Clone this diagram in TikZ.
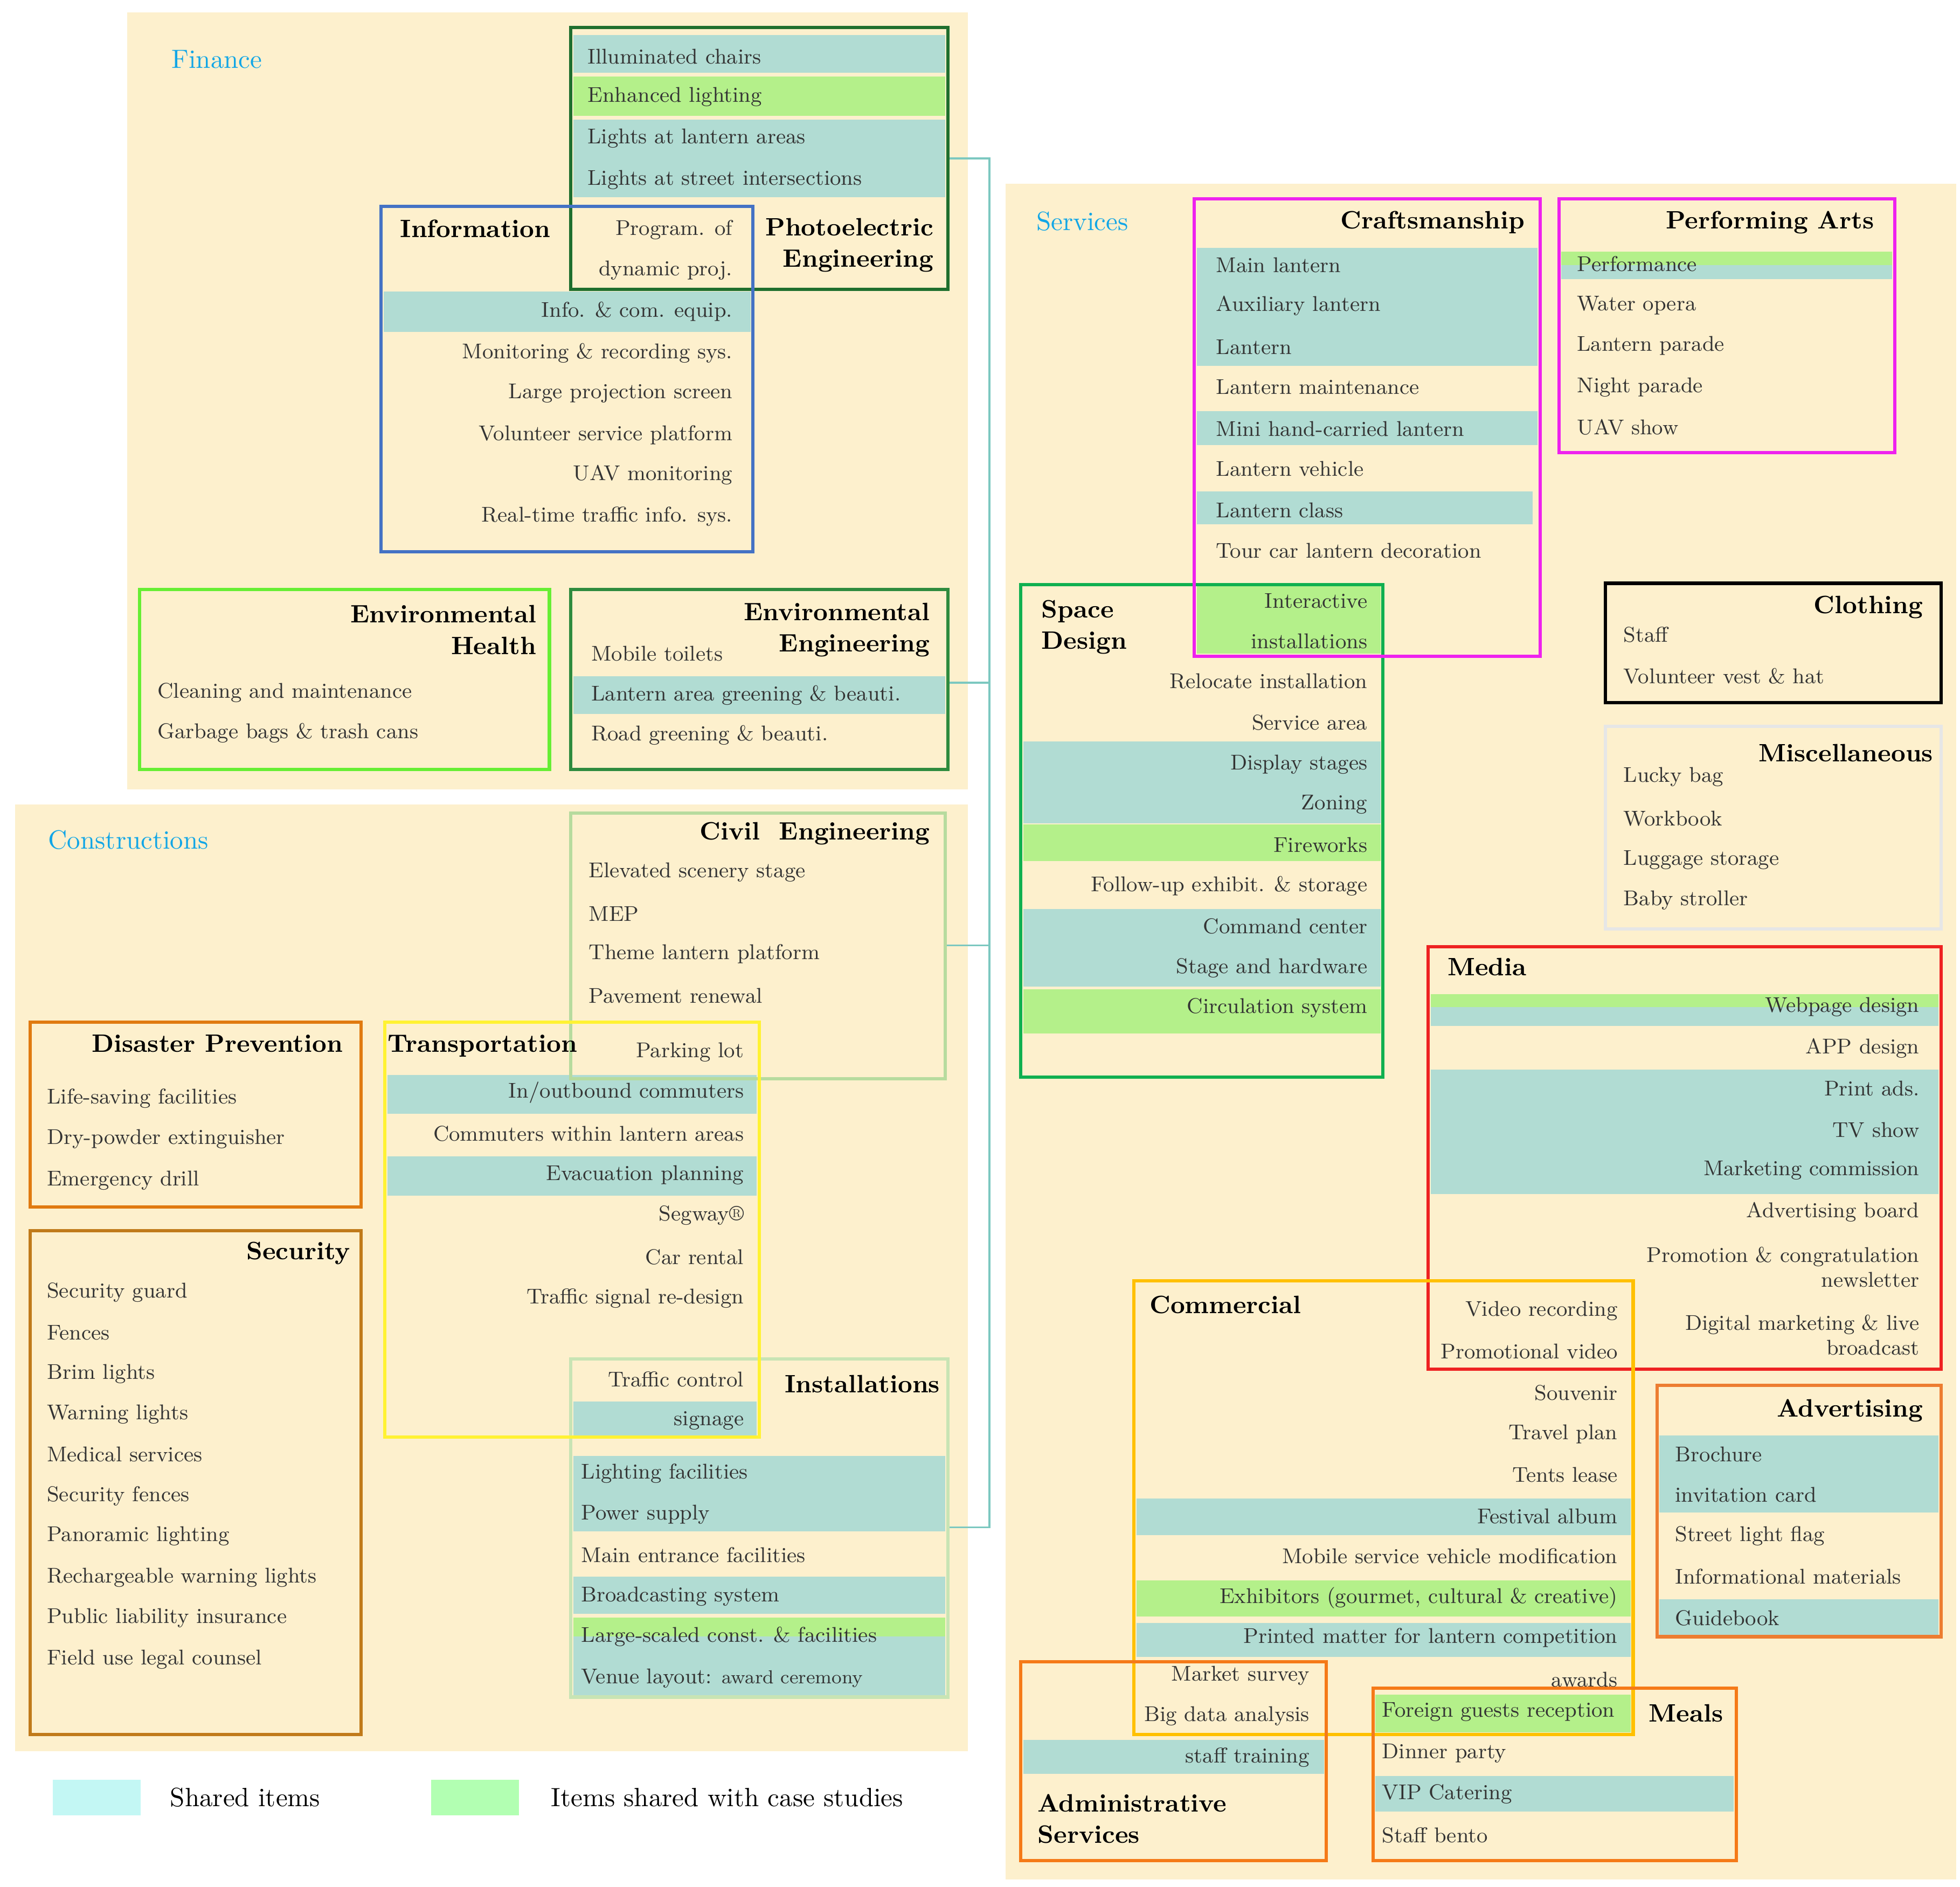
\documentclass[tikz,border=0pt]{standalone}
\begin{document}
\definecolor{bg}{HTML}{FDF0CD}
\definecolor{teal1}{HTML}{B1DCD3}
\definecolor{grn1}{HTML}{B4F08A}
\definecolor{txt}{HTML}{333333}
\definecolor{ttxt}{HTML}{2F7F86}
\definecolor{lbl}{HTML}{12A6E6}
\definecolor{cpe}{HTML}{1F6F2E}
\definecolor{cinfo}{HTML}{4472C4}
\definecolor{ceh}{HTML}{66EE33}
\definecolor{cee}{HTML}{2E8B3E}
\definecolor{cce}{HTML}{B7DB9E}
\definecolor{cdp}{HTML}{E07A10}
\definecolor{csec}{HTML}{C07A1A}
\definecolor{ctr}{HTML}{FFF233}
\definecolor{cinst}{HTML}{C8E4B4}
\definecolor{cmag}{HTML}{EE22EE}
\definecolor{csd}{HTML}{10B050}
\definecolor{cmisc}{HTML}{E6E6E6}
\definecolor{cmed}{HTML}{EE2222}
\definecolor{ccom}{HTML}{FFC000}
\definecolor{cadv}{HTML}{ED7D31}
\definecolor{cadm}{HTML}{F57A18}
\definecolor{clink}{HTML}{7CC8C0}
\begin{tikzpicture}[x=0.5pt,y=-0.5pt,
  tx/.style={font=\fontsize{8.5}{10}\selectfont,text=txt,inner sep=0pt},
  tl/.style={tx,anchor=west},
  tr/.style={tx,anchor=east},
  ttl/.style={font=\fontsize{10}{12.5}\selectfont\bfseries,text=black,inner sep=0pt},
  lab/.style={font=\fontsize{10.5}{12}\selectfont,text=lbl,inner sep=0pt,anchor=west},
  box/.style={line width=1.3pt},
  tb/.style={fill=teal1},
  gb/.style={fill=grn1}]
\useasboundingbox (0,0) rectangle (1559,1501);
% panels
\fill[bg] (101,10) rectangle (770,628);
\fill[bg] (12,640) rectangle (770,1393);
\fill[bg] (800,146) rectangle (1556,1495);
% bands
\fill[tb] (456,28) rectangle (752,58);
\fill[gb] (456,61) rectangle (752,92);
\fill[tb] (456,95) rectangle (752,157);
\fill[tb] (305,232) rectangle (597,264);
\fill[tb] (456,538) rectangle (752,568);
\fill[tb] (308,855) rectangle (602,886);
\fill[tb] (308,920) rectangle (602,951);
\fill[tb] (456,1115) rectangle (602,1143);
\fill[tb] (456,1158) rectangle (752,1218);
\fill[tb] (456,1254) rectangle (752,1284);
\fill[gb] (456,1287) rectangle (752,1302);
\fill[tb] (456,1302) rectangle (752,1350);
\fill[tb] (952,197) rectangle (1223,291);
\fill[tb] (952,327) rectangle (1223,354);
\fill[tb] (952,391) rectangle (1219,417);
\fill[gb] (952,466) rectangle (1098,520);
\fill[tb] (814,590) rectangle (1098,655);
\fill[gb] (814,656) rectangle (1098,685);
\fill[tb] (814,723) rectangle (1098,785);
\fill[gb] (814,787) rectangle (1098,822);
\fill[gb] (1242,200) rectangle (1505,211);
\fill[tb] (1242,211) rectangle (1505,222);
\fill[gb] (1138,791) rectangle (1542,801);
\fill[tb] (1138,801) rectangle (1542,816);
\fill[tb] (1138,851) rectangle (1542,950);
\fill[tb] (904,1192) rectangle (1297,1221);
\fill[gb] (904,1257) rectangle (1297,1286);
\fill[tb] (904,1291) rectangle (1297,1318);
\fill[tb] (1320,1142) rectangle (1542,1203);
\fill[tb] (1320,1272) rectangle (1542,1302);
\fill[tb] (814,1384) rectangle (1053,1411);
\fill[gb] (1094,1348) rectangle (1297,1378);
\fill[tb] (1094,1413) rectangle (1379,1441);
% links
\coordinate (la) at (787,126);
\coordinate (lb) at (787,1215);
\coordinate (pe) at (754,126);
\coordinate (ee) at (754,543);
\coordinate (ce) at (752,752);
\coordinate (ins) at (754,1215);
\draw[clink,line width=0.8pt] (pe) -- (la) -- (lb) -- (ins);
\draw[clink,line width=0.8pt] (ee) -- (787,543);
\draw[clink,line width=0.8pt] (ce) -- (787,752);
% borders
\draw[box,cpe] (454,22) rectangle (754,230);
\draw[box,cinfo] (303,164) rectangle (599,439);
\draw[box,ceh] (111,469) rectangle (437,612);
\draw[box,cee] (454,469) rectangle (754,612);
\draw[box,cce] (454,647) rectangle (752,858);
\draw[box,cinst] (454,1081) rectangle (754,1350);
\draw[box,cdp] (24,813) rectangle (287,960);
\draw[box,csec] (24,979) rectangle (287,1380);
\draw[box,ctr] (306,813) rectangle (604,1143);
\draw[box,csd] (812,465) rectangle (1100,857);
\draw[box,cmag] (950,158) rectangle (1225,522);
\draw[box,cmag] (1240,158) rectangle (1507,360);
\draw[box,black] (1277,464) rectangle (1544,559);
\draw[box,cmisc] (1277,578) rectangle (1544,739);
\draw[box,cmed] (1136,753) rectangle (1544,1089);
\draw[box,ccom] (902,1019) rectangle (1299,1380);
\draw[box,cadv] (1318,1102) rectangle (1544,1302);
\draw[box,cadm] (812,1322) rectangle (1055,1480);
\draw[box,cadm] (1092,1343) rectangle (1381,1480);
% labels
\node[lab] (lfin) at (136,47) {Finance};
\node[lab] (lcon) at (38,668) {Constructions};
\node[lab] (lser) at (824,176) {Services};
% Photoelectric
\node[ttl,align=right,anchor=east] (tpe) at (743,195) {Photoelectric\\Engineering};
\foreach \y/\s [count=\i] in {45/Illuminated chairs,77/Enhanced lighting,110/Lights at lantern areas,143/Lights at street intersections}
  \node[tl] (pe\i) at (467,\y) {\s};
\node[tx,align=right,anchor=east,font=\fontsize{8.5}{16}\selectfont] (pdp) at (583,199) {Program. of\\dynamic proj.};
% Information
\node[ttl,anchor=west] (tinf) at (318,182) {Information};
\foreach \y/\s [count=\i] in {248/Info. \& com. equip.,281/Monitoring \& recording sys.,313/Large projection screen,346/Volunteer service platform,378/UAV monitoring,411/Real-time traffic info. sys.}
  \node[tr] (in\i) at (583,\y) {\s};
% Env Health
\node[ttl,align=right,anchor=east] (teh) at (427,501) {Environmental\\Health};
\node[tl] (eh1) at (125,551) {Cleaning and maintenance};
\node[tl] (eh2) at (125,583) {Garbage bags \& trash cans};
% Env Eng
\node[ttl,align=right,anchor=east] (tee) at (740,501) {Environmental\\Engineering};
\node[tl] (ee1) at (470,520) {Mobile toilets};
\node[tl] (ee2) at (470,553) {Lantern area greening \& beauti.};
\node[tl] (ee3) at (470,585) {Road greening \& beauti.};
% Civil
\node[ttl,anchor=east] (tce) at (740,663) {Civil\ \ Engineering};
\foreach \y/\s [count=\i] in {694/Elevated scenery stage,727/MEP,759/Theme lantern platform,792/Pavement renewal}
  \node[tl] (ce\i) at (468,\y) {\s};
% Disaster
\node[ttl,anchor=east] (tdp) at (273,830) {Disaster Prevention};
\foreach \y/\s [count=\i] in {874/Life-saving facilities,906/Dry-powder\ extinguisher,939/Emergency drill}
  \node[tl] (dp\i) at (37,\y) {\s};
% Security
\node[ttl,anchor=east] (tsec) at (279,997) {Security};
\foreach \y/\s [count=\i] in {1028/Security guard,1060/Fences,1093/Brim lights,1125/Warning lights,1157/Medical services,1190/Security fences,1222/Panoramic lighting,1255/Rechargeable warning lights,1287/Public liability insurance,1320/Field use legal counsel}
  \node[tl] (se\i) at (37,\y) {\s};
% Transportation
\node[ttl,anchor=west] (ttr) at (308,832) {Transportation};
\foreach \y/\s [count=\i] in {837/Parking lot,869/{In/outbound commuters},902/Commuters within lantern areas,935/Evacuation planning,967/Segway\textregistered,1000/Car rental,1033/Traffic signal re-design,1097/Traffic control,1130/signage}
  \node[tr] (tr\i) at (592,\y) {\s};
% Installations
\node[ttl,anchor=east] (tins) at (748,1101) {Installations};
\foreach \y/\s [count=\i] in {1172/Lighting facilities,1205/Power supply,1237/Main entrance facilities,1270/Broadcasting system,1302/Large-scaled const. \& facilities,1335/{Venue layout: {\fontsize{7.5}{9}\selectfont award ceremony}}}
  \node[tl] (is\i) at (462,\y) {\s};
% Craftsmanship
\node[ttl,anchor=east] (tcr) at (1213,177) {Craftsmanship};
\foreach \y/\s [count=\i] in {211/Main lantern,243/Auxiliary lantern,276/Lantern,308/Lantern maintenance,341/Mini hand-carried lantern,373/Lantern vehicle,406/Lantern class,438/Tour car lantern decoration}
  \node[tl] (cr\i) at (967,\y) {\s};
% Space design
\node[ttl,align=left,anchor=west] (tsd) at (828,499) {Space\\Design};
\foreach \y/\s [count=\i] in {478/Interactive,510/installations,542/Relocate installation,575/Service area,608/Display stages,640/Zoning,672/Fireworks,705/Follow-up exhibit. \& storage,737/Command center,770/Stage and hardware,802/Circulation system}
  \node[tr] (sd\i) at (1088,\y) {\s};
% Performing arts
\node[ttl,anchor=east] (tpa) at (1491,177) {Performing Arts};
\foreach \y/\s [count=\i] in {210/Performance,243/Water opera,275/Lantern parade,308/Night parade,340/UAV show}
  \node[tl] (pa\i) at (1254,\y) {\s};
% Clothing
\node[ttl,anchor=east] (tcl) at (1530,483) {Clothing};
\node[tl] (cl1) at (1291,505) {Staff};
\node[tl] (cl2) at (1291,538) {Volunteer vest \& hat};
% Misc
\node[ttl,anchor=east] (tmi) at (1538,599) {Miscellaneous};
\foreach \y/\s [count=\i] in {618/Lucky bag,651/Workbook,684/Luggage storage,716/Baby stroller}
  \node[tl] (mi\i) at (1291,\y) {\s};
% Media
\node[ttl,anchor=west] (tme) at (1151,769) {Media};
\foreach \y/\s [count=\i] in {801/Webpage design,834/APP design,866/Print ads.,899/TV show,931/Marketing commission,964/Advertising board}
  \node[tr] (me\i) at (1527,\y) {\s};
\node[tx,anchor=east,align=right] (me7) at (1527,1008) {Promotion \& congratulation\\newsletter};
\node[tx,anchor=east,align=right] (me8) at (1527,1062) {Digital marketing \& live\\broadcast};
% Commercial
\node[ttl,anchor=west] (tco) at (914,1038) {Commercial};
\foreach \y/\s [count=\i] in {1043/Video recording,1075/Promotional video,1108/Souvenir,1141/Travel plan,1173/Tents lease,1206/Festival album,1238/Mobile service vehicle modification,1271/{Exhibitors (gourmet, cultural \& creative)},1303/Printed matter for lantern competition,1336/awards}
  \node[tr] (co\i) at (1287,\y) {\s};
% Advertising
\node[ttl,anchor=east] (tad) at (1530,1122) {Advertising};
\foreach \y/\s [count=\i] in {1157/Brochure,1189/invitation card,1222/Street light flag,1254/Informational materials,1287/Guidebook}
  \node[tl] (ad\i) at (1332,\y) {\s};
% Administrative
\node[ttl,align=left,anchor=west] (tas) at (825,1447) {Administrative\\Services};
\foreach \y/\s [count=\i] in {1333/Market survey,1365/Big data analysis,1398/staff training}
  \node[tr] (as\i) at (1042,\y) {\s};
% Meals
\node[ttl,anchor=east] (tml) at (1371,1363) {Meals};
\foreach \y/\s [count=\i] in {1362/Foreign guests reception,1395/Dinner party,1427/VIP Catering,1460/Staff bento}
  \node[tl] (ml\i) at (1099,\y) {\s};
% legend
\fill[fill=teal1!60!cyan!40] (42,1416) rectangle (112,1444);
\fill[fill=green!30] (343,1416) rectangle (413,1444);
\node[font=\fontsize{10.5}{12}\selectfont,anchor=west,inner sep=0pt] (lg1) at (135,1430) {Shared items};
\node[font=\fontsize{10.5}{12}\selectfont,anchor=west,inner sep=0pt] (lg2) at (438,1430) {Items shared with case studies};
\end{tikzpicture}
\end{document}
